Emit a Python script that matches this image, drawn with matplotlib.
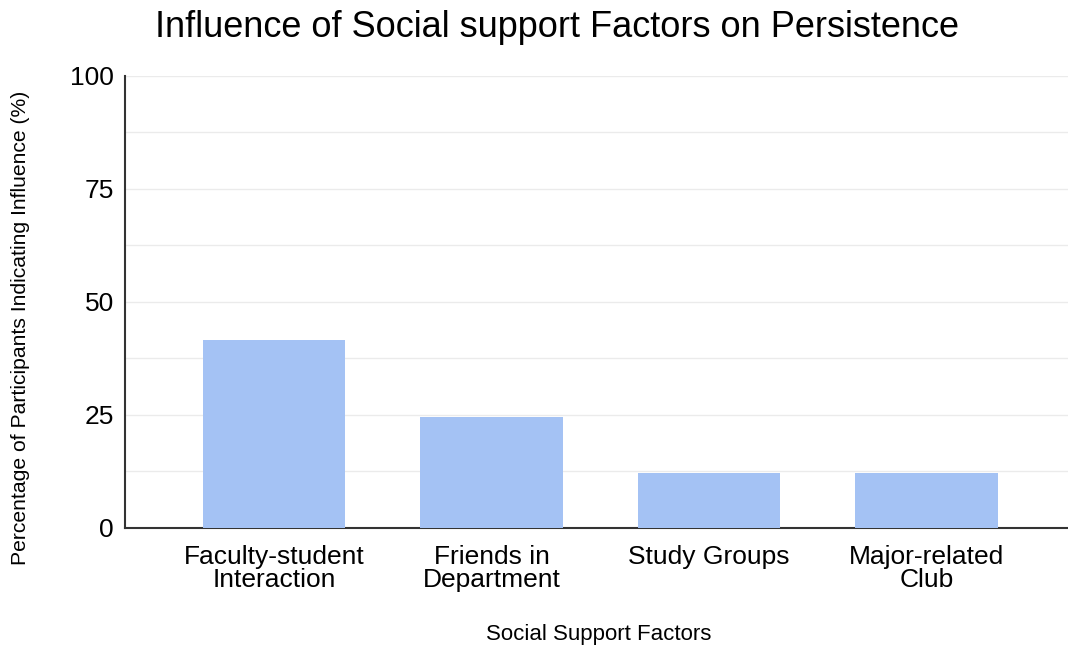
import matplotlib
matplotlib.use("Agg")
import matplotlib.pyplot as plt
from matplotlib.ticker import MultipleLocator

categories = ["Faculty-student\nInteraction", "Friends in\nDepartment",
              "Study Groups", "Major-related\nClub"]
percent = [41.5, 24.6, 12.1, 12.1]
yticks = [0, 25, 50, 75, 100]

plt.rcParams["font.family"] = ["Liberation Sans", "DejaVu Sans"]

fig = plt.figure(figsize=(10.68, 6.47), dpi=100)
ax = fig.add_axes([0.117, 0.184, 0.883, 0.699])

x = range(len(categories))
ax.bar(x, percent, width=0.655, color="#a4c2f4", zorder=3)

ax.set_xlim(-0.685, 3.65)
ax.set_ylim(0, 100)
ax.set_yticks(yticks)
ax.yaxis.set_minor_locator(MultipleLocator(12.5))
ax.grid(axis="y", which="both", color="#ebebeb", lw=1, zorder=0)
ax.set_xticks(list(x))
ax.set_xticklabels(categories, fontsize=19, linespacing=0.95)
ax.tick_params(axis="y", labelsize=19, length=0, pad=8)
ax.tick_params(axis="y", which="minor", length=0)
ax.tick_params(axis="x", length=0, pad=12)

for s in ["top", "right"]:
    ax.spines[s].set_visible(False)
for s in ["left", "bottom"]:
    ax.spines[s].set_color("#333333")
    ax.spines[s].set_linewidth(1.5)

fig.text(0.561, 0.02, "Social Support Factors", fontsize=16, ha="center", va="center")
fig.text(0.019, 0.493, "Percentage of Participants Indicating Influence (%)",
         fontsize=15.2, rotation=90, ha="center", va="center")
fig.text(0.522, 0.958, "Influence of Social support Factors on Persistence",
         fontsize=26, ha="center", va="center")

fig.savefig("out.png", dpi=100)
